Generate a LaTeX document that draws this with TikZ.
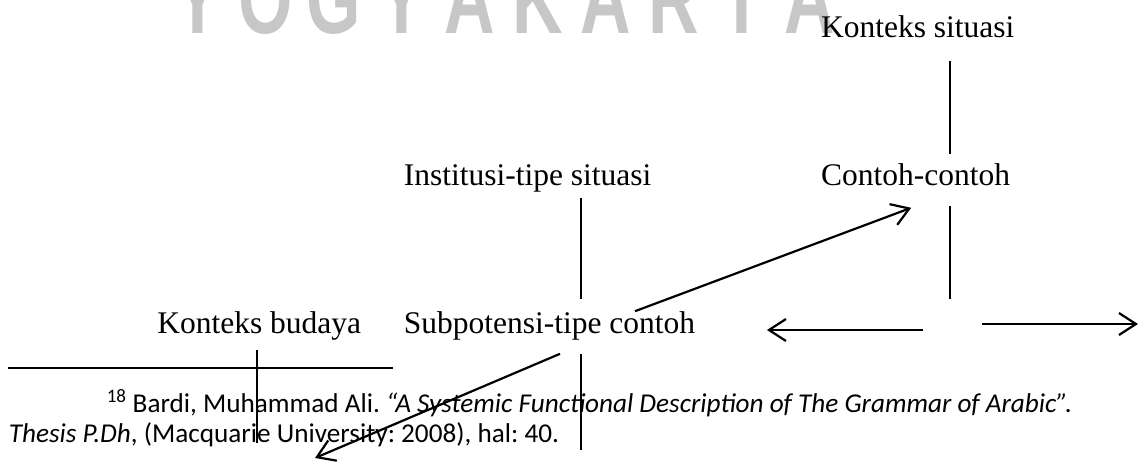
\documentclass[tikz,border=0pt]{standalone}
\usepackage{fontspec}
\setmainfont{Liberation Serif}
\newfontfamily\notefont{Carlito}
\newfontfamily\markfont[FakeStretch=0.7]{Liberation Sans}
\usetikzlibrary{positioning,calc,arrows.meta}
\frenchspacing

\begin{document}
\begin{tikzpicture}[x=1pt, y=-1pt, >={Straight Barb[length=17pt,width=22pt]},
    line width=1.6pt,
    lbl/.style={inner sep=0pt, text height=22pt, text depth=7pt, font=\fontsize{31.5}{36}\selectfont},
    note/.style={inner sep=0pt, anchor=base west, font=\notefont\fontsize{27.2}{30}\selectfont},
    wmark/.style={inner sep=0pt, anchor=base, text=black!22, font=\markfont\bfseries\fontsize{100}{100}\selectfont},
    arr/.style={->, line width=2.2pt}]
    \clip (0,0) rectangle (1144,467);

    % watermark, cut at the top edge
    \foreach \ch [count=\i from 0] in {Y,O,G,Y,A,K,A,R,T,A}
        \node [wmark] (w\i) at (198+68*\i, 33) {\ch};

    \node [lbl, anchor=base west] (it) at (403,185) {Institusi-tipe situasi};
    \node [lbl, anchor=base west] (sp) at (403,333) {Subpotensi-tipe contoh};
    \node [lbl, base left=41pt of sp] (kb) {Konteks budaya};
    \node [lbl, base right=168pt of it] (cc) {Contoh-contoh};
    \node [lbl, anchor=base west] (ks) at ($(cc.base west)+(0,-148)$) {Konteks situasi};

    \coordinate (fork) at (950,327);
    \coordinate (forkl) at ($(fork)+(0,3)$);
    \coordinate (forkr) at ($(fork)+(0,-3)$);
    \coordinate (rgtend) at (1138,324);
    \coordinate (spdown) at (581,450);
    \coordinate (kbdown) at (257,443);
    \coordinate (dlend) at (315,458);

    \draw [shorten <=16pt, shorten >=8pt] (ks.south -| fork) -- (cc.north -| fork);
    \draw [shorten <=13pt, shorten >=28pt] (cc.south -| fork) -- (fork);
    \draw [arr, shorten <=27pt, shorten >=71pt] (forkl) -- (forkl -| sp.east);
    \draw [arr, shorten <=32pt] (forkr) -- (rgtend);

    \draw [shorten <=5pt, shorten >=11pt] (it.south -| spdown) -- (sp.north -| spdown);
    \draw [shorten <=13pt] (sp.south -| spdown) -- (spdown);
    \draw [shorten <=9pt] (kb.south -| kbdown) -- (kbdown);

    \draw [arr] ($(sp.north west)+(232,1)$) -- ($(cc.south west)+(91,15)$);
    \draw [arr] ($(sp.south west)+(157,13)$) -- (dlend);

    % footnote
    \draw [line width=2pt] (8,368) -- (393,368);
    \node [note] (fn1) at (106,412) {\textsuperscript{18} Bardi, Muhammad Ali. \textit{“A Systemic Functional Description of The Grammar of Arabic”.}};
    \node [note] (fn2) at (8,442) {\textit{Thesis P.Dh}, (Macquarie University: 2008), hal: 40.};
\end{tikzpicture}
\end{document}
